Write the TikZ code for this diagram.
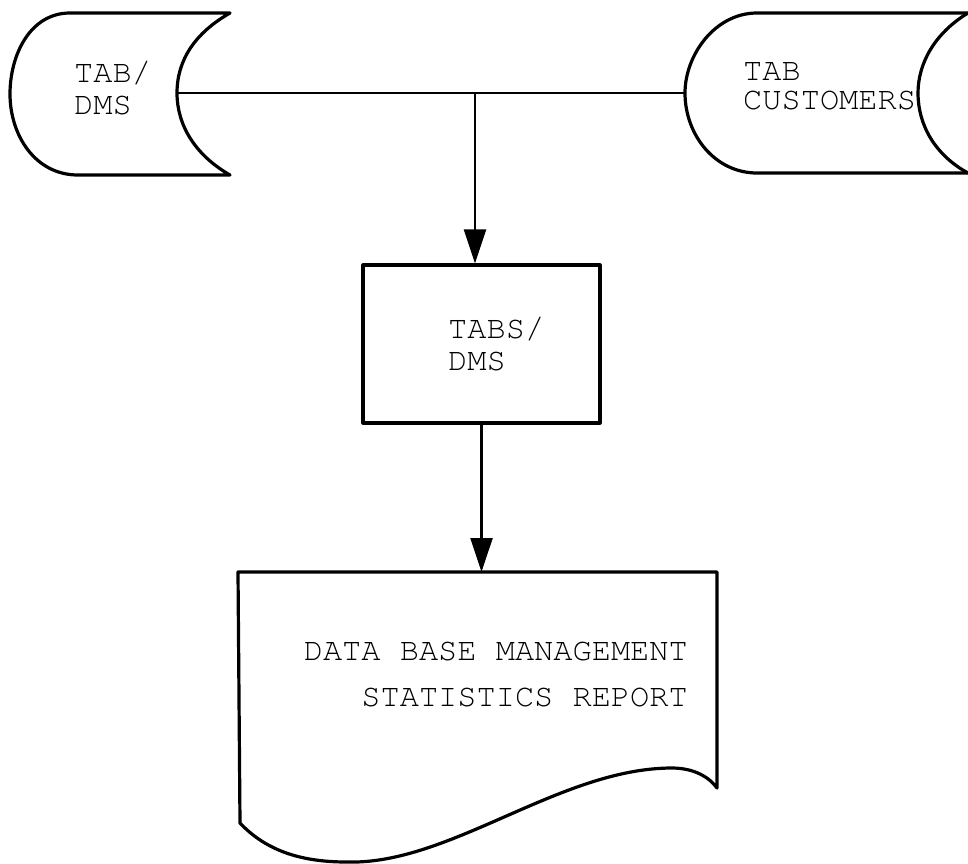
\documentclass[tikz,border=0pt]{standalone}
\usepackage[T1]{fontenc}
\usepackage{courier}
\usetikzlibrary{arrows.meta}
\tikzset{
  shapeline/.style={line width=3.2pt, line join=round},
  flowline/.style={line width=2.4pt},
  flowarrow/.style={flowline, -{Triangle[length=34pt,width=22pt]}},
  lbl/.style={font=\ttfamily\fontsize{32}{32}\selectfont, align=left, inner sep=0pt, anchor=west},
}
\begin{document}
\begin{tikzpicture}[x=1pt, y=-1pt]
    \useasboundingbox (0,0) rectangle (968,863);
    % storage left
    \draw[shapeline] (230,13) -- (70,13) .. controls (30,13) and (10,55) .. (10,94)
        .. controls (10,135) and (35,175) .. (78,175) -- (230,175)
        .. controls (195,155) and (177,125) .. (177,93)
        .. controls (177,60) and (195,33) .. (230,13) -- cycle;
    \coordinate (dmsOut) at (177,93);
    \node[lbl] (dmsFile) at (74,89) {TAB/\\DMS};
    % storage right
    \draw[shapeline] (968,13) -- (757,13) .. controls (715,13) and (685,55) .. (685,93)
        .. controls (685,135) and (715,173) .. (757,173) -- (968,173);
    \draw[shapeline] (968,13) .. controls (935,33) and (918,63) .. (918,93)
        .. controls (918,125) and (935,155) .. (968,173);
    \coordinate (custIn) at (685,93);
    \node[lbl] (custFile) at (743,86) {TAB\\[-3pt]CUSTOMERS};
    % merge line
    \draw[flowline] (dmsOut) -- (custIn);
    \coordinate (jn) at (475,93);
    % process
    \node[draw, shapeline, minimum width=237pt, minimum height=158pt, inner sep=0pt] (tabs) at (481.5,344) {};
    \node[lbl] (tabsText) at (448,345) {TABS/\\DMS};
    \draw[flowarrow] (jn) -- (jn |- tabs.north);
    % report
    \draw[shapeline] (717,572) -- (238,572) -- (240,823)
        .. controls (270,855) and (310,862) .. (347,862)
        .. controls (450,865) and (560,768) .. (672,768)
        .. controls (695,768) and (710,778) .. (717,788) -- cycle;
    \coordinate (docTop) at (479,572);
    \node[lbl, align=right, anchor=east] (report) at (688,674) {DATA BASE MANAGEMENT\\[14pt]STATISTICS REPORT};
    \draw[flowarrow] (tabs.south) -- (tabs.south |- docTop);
\end{tikzpicture}
\end{document}
